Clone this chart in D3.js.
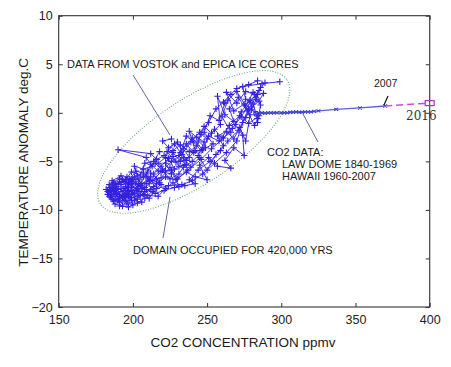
<!DOCTYPE html>
<html><head><meta charset="utf-8">
<script src="https://cdn.jsdelivr.net/npm/d3@7"></script>
<style>body{margin:0;background:#fff}svg{display:block}text{font-family:"Liberation Sans",Arial,sans-serif}</style>
</head><body><svg id="c" width="451" height="367"></svg>
<script>
// ---- data (CO2 ppmv, temperature anomaly deg C) ----
const xTicks = [150,200,250,300,350,400];
const yTicks = [-20,-15,-10,-5,0,5,10];
const cycle1 = [[299,3.2],[287,3.0],[274,2.7],[276,1.4],[281,0.9],[284,-0.6],[282,-1.3],[277,0.2],[271,1.6],[265,0.4],[268,-0.9],[262,-0.2],[257,1.7],[259,-1.2],[253,-2.1],[248,-1.4],[244,-2.9],[249,-3.6],[241,-4.1],[236,-3.2],[231,-4.4],[235,-5.3],[228,-5.8],[224,-4.7],[219,-5.5],[214,-6.3],[218,-7.2],[210,-6.8],[205,-7.5],[199,-7.0],[195,-7.8],[201,-8.3],[193,-8.7],[188,-8.0],[184,-7.7],[186,-8.9],[191,-9.2],[197,-8.6],[203,-8.9],[208,-8.1],[214,-7.6],[222,-6.6],[229,-6.9],[237,-5.9],[246,-4.8],[253,-3.7],[261,-2.6],[267,-1.6],[273,-0.4],[279,1.1],[285,2.3],[289,3.1]];
const cycle2 = [[281,2.1],[276,0.7],[270,2.2],[264,1.3],[260,-0.4],[266,-2.0],[258,-2.9],[251,-2.4],[247,-3.8],[240,-2.6],[234,-3.7],[238,-4.6],[232,-5.0],[227,-4.1],[222,-5.2],[226,-6.3],[217,-6.0],[212,-5.3],[209,-6.4],[204,-6.9],[208,-7.7],[200,-7.3],[196,-6.6],[192,-7.4],[187,-7.2],[183,-8.1],[189,-8.4],[194,-9.0],[200,-9.5],[197,-8.0],[205,-8.5],[211,-8.8],[216,-7.8],[224,-7.5],[233,-7.4],[240,-7.0],[247,-6.3],[255,-5.2],[263,-4.1],[270,-2.9],[274,-1.0],[278,0.4],[283,1.6],[286,2.6]];
const cycle3 = [[284,1.9],[279,1.3],[273,0.1],[269,-1.2],[274,-2.3],[275,-4.4],[268,-3.6],[262,-4.9],[266,-5.7],[257,-5.5],[251,-4.6],[245,-5.4],[250,-6.9],[242,-6.6],[236,-6.1],[230,-6.8],[225,-5.6],[219,-6.7],[213,-7.0],[207,-6.2],[202,-6.0],[198,-6.8],[193,-6.9],[188,-7.6],[185,-8.4],[190,-8.9],[195,-8.4],[199,-9.0],[206,-9.2],[202,-8.0],[209,-7.9],[215,-8.3],[221,-8.0],[228,-7.7],[235,-7.5],[242,-7.3],[238,-6.9],[244,-5.9],[252,-5.0],[259,-3.9],[264,-2.9],[271,-1.8],[276,-0.5],[280,0.6],[285,1.2],[288,2.0]];
const cycle4 = [[283,1.4],[280,0.3],[285,-0.3],[278,-1.1],[272,-0.3],[265,-1.3],[260,-2.6],[255,-1.7],[250,-2.7],[246,-2.2],[243,-3.4],[238,-4.0],[232,-3.3],[227,-3.9],[221,-4.4],[216,-4.8],[212,-4.2],[190,-3.8],[209,-4.6],[213,-5.5],[207,-5.8],[201,-5.5],[203,-6.5],[197,-7.2],[191,-6.8],[186,-7.3],[182,-7.9],[184,-8.6],[188,-9.4],[193,-9.6],[196,-9.1],[202,-8.6],[211,-7.3],[219,-6.1],[226,-5.0],[233,-4.3],[239,-3.0],[245,-2.0],[251,-1.0],[256,0.4],[261,1.1],[266,1.9],[270,2.5],[278,2.9],[284,3.3]];
const cycle5 = [[195,-7.6],[190,-7.9],[186,-7.0],[192,-6.5],[198,-7.4],[203,-7.8],[199,-8.4],[194,-8.0],[189,-8.3],[185,-8.0],[188,-7.3],[194,-7.1],[201,-6.6],[206,-7.3],[211,-7.0],[216,-7.3],[212,-7.9],[207,-8.4],[201,-9.0],[196,-9.4],[191,-8.6],[187,-9.1],[183,-8.4],[186,-7.7],[192,-7.8],[198,-8.1],[204,-7.6],[210,-6.0],[215,-5.2],[220,-5.9],[225,-6.8],[231,-6.3],[234,-5.6],[240,-5.0],[244,-4.4],[248,-3.0],[243,-2.5],[238,-1.9],[242,-3.9],[236,-4.9],[230,-3.0],[224,-3.6],[220,-2.9],[226,-2.7]];
const cycle6 = [[262,1.0],[258,-0.8],[252,-0.3],[248,-2.0],[254,-3.2],[246,-3.9],[241,-3.0],[236,-2.4],[232,-4.1],[228,-3.2],[223,-4.0],[229,-5.1],[234,-4.6],[239,-5.6],[245,-4.6],[250,-5.9],[256,-4.3],[261,-3.4],[257,-2.4],[263,-1.9],[268,-2.7],[272,-1.5],[276,-2.9],[279,-0.2],[275,0.9],[268,0.2],[263,2.1],[270,1.0],[276,2.2],[282,1.9],[286,0.8],[284,-1.0]];
const cycle7 = [[218,-4.0],[214,-5.0],[208,-5.2],[205,-6.4],[199,-6.1],[195,-6.9],[190,-7.3],[184,-7.4],[187,-8.1],[193,-8.5],[198,-8.7],[204,-8.1],[210,-8.5],[217,-8.6],[222,-7.8],[227,-7.2],[231,-7.6],[226,-5.9],[222,-6.0],[217,-5.2],[222,-4.6],[227,-4.5],[231,-5.5],[236,-5.4]];
const cycle8 = [[189,-7.6],[185,-8.7],[190,-9.0],[194,-8.6],[197,-7.7],[202,-7.1],[206,-7.8],[200,-8.0],[196,-8.3],[192,-8.1],[188,-8.6],[184,-8.2],[187,-7.8],[191,-7.1],[196,-7.3],[200,-6.9],[207,-6.6],[212,-6.6],[209,-7.3],[204,-7.3],[199,-7.7],[195,-8.7],[191,-9.6],[197,-9.7],[203,-9.3],[208,-8.8],[213,-8.1],[219,-7.4],[216,-6.8],[212,-6.2]];
const modern = [[283,-0.1],[285,-0.1],[287,0.0],[289,-0.05],[291,0.0],[293,0.0],[295,0.0],[297,0.0],[300,0.0],[302,0.0],[304,0.0],[306,0.05],[308,0.05],[310,0.1],[312,0.05],[314,0.05],[316,0.1],[318,0.1],[320,0.1],[322,0.15],[325,0.2],[337,0.35],[353,0.5],[370,0.7]];
const projection = [[370,0.7],[400,1.0]];
const point2016 = [400,1.0];

// ---- scales ----
const svg = d3.select("#c");
const x = d3.scaleLinear().domain([150,400]).range([58.7,429.7]);
const y = d3.scaleLinear().domain([-20,10]).range([307,15.7]);

// axes
const gx = svg.append("g").attr("transform",`translate(0,${y(-20)})`)
  .call(d3.axisBottom(x).tickValues(xTicks).tickSizeInner(-4).tickSizeOuter(0).tickPadding(8));
const gxt = svg.append("g").attr("transform",`translate(0,${y(10)})`)
  .call(d3.axisTop(x).tickValues(xTicks).tickSizeInner(-4).tickSizeOuter(0).tickFormat(""));
const gy = svg.append("g").attr("transform",`translate(${x(150)},0)`)
  .call(d3.axisLeft(y).tickValues(yTicks).tickSizeInner(-4).tickSizeOuter(0).tickPadding(6));
const gyr = svg.append("g").attr("transform",`translate(${x(400)},0)`)
  .call(d3.axisRight(y).tickValues(yTicks).tickSizeInner(-4).tickSizeOuter(0).tickFormat(""));
[gx,gxt,gy,gyr].forEach(g=>{g.select(".domain").remove();g.selectAll("line").attr("stroke","#333");
  g.selectAll("text").attr("fill","#222").style("font-size","12.5px").style("font-family","Liberation Sans, Arial, sans-serif");});
svg.append("rect").attr("x",x(150)).attr("y",y(10)).attr("width",x(400)-x(150)).attr("height",y(-20)-y(10))
  .attr("fill","none").attr("stroke","#333").attr("stroke-width",1.1);

// axis titles
svg.append("text").attr("x",243).attr("y",347).attr("text-anchor","middle").attr("fill","#1a1a1a")
  .style("font-size","13.5px").text("CO2 CONCENTRATION ppmv");
svg.append("text").attr("transform",`translate(28,${(y(10)+y(-20))/2+1}) rotate(-90)`).attr("text-anchor","middle").attr("fill","#1a1a1a")
  .style("font-size","13.5px").text("TEMPERATURE ANOMALY deg.C");

// ellipse (domain)
svg.append("ellipse").attr("transform",`translate(${x(241)},${y(-3)}) rotate(-33.7)`)
  .attr("rx",112).attr("ry",42).attr("fill","none").attr("stroke","#6aaa78").attr("stroke-width",1.1).attr("stroke-dasharray","1,1.6");

// ice core series
const line = d3.line().x(d=>x(d[0])).y(d=>y(d[1]));
const ice = [cycle1,cycle2,cycle3,cycle4,cycle5,cycle6,cycle7,cycle8];
const iceColor = "#3320dd";
ice.forEach(c=>{
  svg.append("path").attr("d",line(c)).attr("fill","none").attr("stroke",iceColor).attr("stroke-width",1).attr("stroke-opacity",0.9);
});
const allIce = ice.flat();
svg.append("g").selectAll("path").data(allIce).join("path")
  .attr("d",d=>`M${x(d[0])-3.2},${y(d[1])}h6.4M${x(d[0])},${y(d[1])-3.2}v6.4`)
  .attr("stroke",iceColor).attr("stroke-width",1.1);

// modern
svg.append("path").attr("d",line(modern)).attr("fill","none").attr("stroke","#5c5ce0").attr("stroke-width",1.3);
svg.append("g").selectAll("path").data(modern).join("path")
  .attr("d",d=>`M${x(d[0])-2},${y(d[1])-1.5}l4,3M${x(d[0])-2},${y(d[1])+1.5}l4,-3`)
  .attr("stroke","#4040d8").attr("stroke-width",1.1);
svg.append("circle").attr("cx",x(283)).attr("cy",y(-0.1)).attr("r",2.3).attr("fill","none").attr("stroke","#3a30d8").attr("stroke-width",1.2);

// projection to 2016
svg.append("path").attr("d",line(projection)).attr("fill","none").attr("stroke","#d04ad8").attr("stroke-width",1.5).attr("stroke-dasharray","7,4");
svg.append("rect").attr("x",x(point2016[0])-4.5).attr("y",y(point2016[1])-2.5).attr("width",9).attr("height",5)
  .attr("fill","none").attr("stroke","#b030c0").attr("stroke-width",1.2);

// annotations
const ann = "#6464a6";
svg.append("line").attr("x1",133).attr("y1",75).attr("x2",170).attr("y2",135).attr("stroke",ann).attr("stroke-width",1);
svg.append("line").attr("x1",303).attr("y1",114).attr("x2",318).attr("y2",142).attr("stroke",ann).attr("stroke-width",1);
svg.append("line").attr("x1",170).attr("y1",197).attr("x2",163).attr("y2",238).attr("stroke",ann).attr("stroke-width",1);
svg.append("line").attr("x1",388).attr("y1",96).attr("x2",384).attr("y2",105).attr("stroke","#111").attr("stroke-width",1.2);

const t = (tx,ty,s,size)=>svg.append("text").attr("x",tx).attr("y",ty).attr("fill","#1a1a1a").style("font-size",size||"11px").text(s);
t(67,68,"DATA FROM VOSTOK and EPICA ICE CORES");
t(267,156,"CO2 DATA:");
t(282,168,"LAW DOME 1840-1969");
t(282,180,"HAWAII 1960-2007");
t(133,254,"DOMAIN OCCUPIED FOR 420,000 YRS");
t(374,87,"2007","10.5px");
svg.append("text").attr("x",406).attr("y",120).attr("fill","#333").style("font-family","DejaVu Serif, serif").style("font-size","12px").text("2016");
</script></body></html>
